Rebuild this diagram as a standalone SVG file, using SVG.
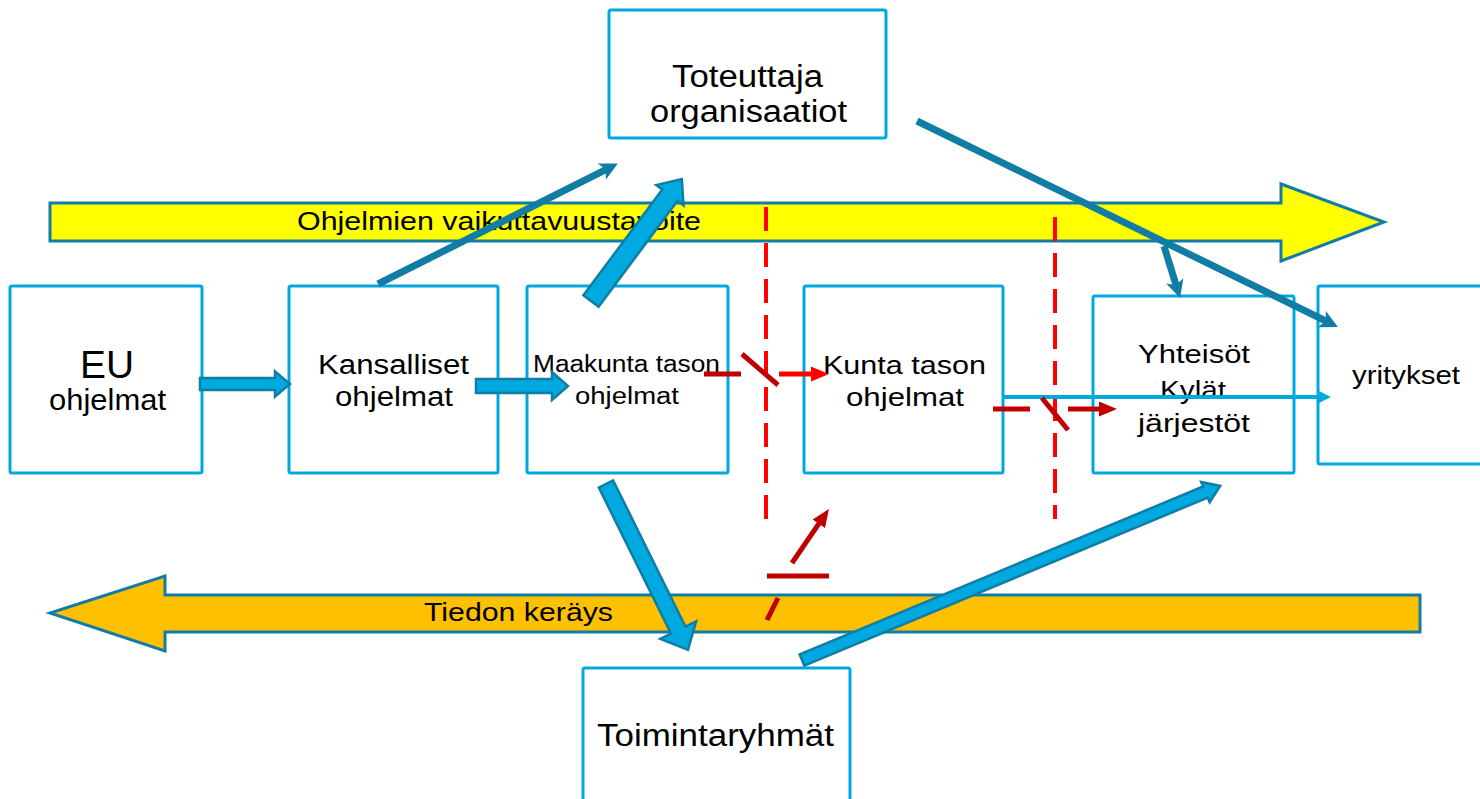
<svg xmlns="http://www.w3.org/2000/svg" width="1480" height="799" viewBox="0 0 1480 799">
<style>
.box{fill:#fff;stroke:#00A8DE;stroke-width:3}
.t{font-family:"Liberation Sans",Arial,sans-serif;fill:#000;text-anchor:middle}
.band{stroke:#117DA5;stroke-width:3;stroke-linejoin:miter}
.blk{fill:#00A9E0;stroke:#117DA5;stroke-width:2.5;stroke-linejoin:miter}
.teal{stroke:#117DA5;stroke-width:7;fill:none}
.dash{stroke:#FF0000;stroke-width:4;stroke-dasharray:24 12;fill:none}
.dr{stroke:#C00000;stroke-width:5;fill:none}
.rd{stroke:#FF0000;stroke-width:5;fill:none}
</style>
<defs>
<marker id="ahT" viewBox="0 0 10 10" markerWidth="18" markerHeight="18" refX="5" refY="5" markerUnits="userSpaceOnUse" orient="auto"><path d="M0,0 L10,5 L0,10 L2.5,5 z" fill="#117DA5"/></marker>
<marker id="ahB" viewBox="0 0 10 10" markerWidth="14" markerHeight="14" refX="5" refY="5" markerUnits="userSpaceOnUse" orient="auto"><path d="M0,0 L10,5 L0,10 L2.5,5 z" fill="#00A9E0"/></marker>
<marker id="ahR" viewBox="0 0 18 15" markerWidth="18" markerHeight="15" refX="8" refY="7.5" markerUnits="userSpaceOnUse" orient="auto"><path d="M0,0 L18,7.5 L0,15 z" fill="#FF0000"/></marker>
<marker id="ahD" viewBox="0 0 18 15" markerWidth="18" markerHeight="15" refX="8" refY="7.5" markerUnits="userSpaceOnUse" orient="auto"><path d="M0,0 L18,7.5 L0,15 z" fill="#C00000"/></marker>
</defs>
<rect width="1480" height="799" fill="#fff"/>

<g id="band-vaikuttavuus">
<polygon class="band" fill="#FFFF00" points="50,203 1281,203 1281,184 1384,222 1281,261 1281,241 50,241"/>
<text class="t" x="499" y="230" font-size="26" textLength="404" lengthAdjust="spacingAndGlyphs">Ohjelmien vaikuttavuustavoite</text>
</g>
<g id="band-tiedon">
<polygon class="band" fill="#FFC000" points="1420,595 165,595 165,576 50,613 165,651 165,632 1420,632"/>
<text class="t" x="518.5" y="621" font-size="26" textLength="189" lengthAdjust="spacingAndGlyphs">Tiedon keräys</text>
</g>

<g id="node-eu">
<rect class="box" x="10" y="286" width="192" height="187" rx="2"/>
<text class="t" x="107" y="378" font-size="38" textLength="54" lengthAdjust="spacingAndGlyphs">EU</text>
<text class="t" x="107.5" y="410" font-size="29" textLength="117" lengthAdjust="spacingAndGlyphs">ohjelmat</text>
</g>
<g id="node-kansalliset">
<rect class="box" x="289" y="286" width="209" height="187" rx="2"/>
<text class="t" x="393.5" y="374" font-size="27" textLength="151" lengthAdjust="spacingAndGlyphs">Kansalliset</text>
<text class="t" x="394" y="406" font-size="27" textLength="118" lengthAdjust="spacingAndGlyphs">ohjelmat</text>
</g>
<g id="node-maakunta">
<rect class="box" x="527" y="286" width="201" height="187" rx="2"/>
<text class="t" x="626.5" y="372" font-size="23" textLength="187" lengthAdjust="spacingAndGlyphs">Maakunta tason</text>
<text class="t" x="627" y="404" font-size="23" textLength="104" lengthAdjust="spacingAndGlyphs">ohjelmat</text>
</g>
<g id="node-kunta">
<rect class="box" x="804" y="286" width="199" height="187" rx="2"/>
<text class="t" x="904.5" y="374" font-size="26" textLength="163" lengthAdjust="spacingAndGlyphs">Kunta tason</text>
<text class="t" x="905" y="406" font-size="26" textLength="118" lengthAdjust="spacingAndGlyphs">ohjelmat</text>
</g>
<g id="node-yhteisot">
<rect class="box" x="1093" y="296" width="201" height="177" rx="2"/>
<text class="t" x="1194" y="363" font-size="25" textLength="112" lengthAdjust="spacingAndGlyphs">Yhteisöt</text>
<text class="t" x="1193" y="399" font-size="25" textLength="66" lengthAdjust="spacingAndGlyphs">Kylät</text>
<text class="t" x="1194" y="432" font-size="25" textLength="112" lengthAdjust="spacingAndGlyphs">järjestöt</text>
</g>
<g id="node-yritykset">
<rect class="box" x="1318" y="286" width="172" height="178" rx="2"/>
<text class="t" x="1406" y="384" font-size="25" textLength="108" lengthAdjust="spacingAndGlyphs">yritykset</text>
</g>
<g id="node-toteuttaja">
<rect class="box" x="609" y="10" width="277" height="128" rx="2"/>
<text class="t" x="747.5" y="87" font-size="31" textLength="151" lengthAdjust="spacingAndGlyphs">Toteuttaja</text>
<text class="t" x="748.5" y="122" font-size="31" textLength="197" lengthAdjust="spacingAndGlyphs">organisaatiot</text>
</g>
<g id="node-toimintaryhmat">
<rect class="box" x="583" y="668" width="267" height="145" rx="2"/>
<text class="t" x="715.5" y="746" font-size="31" textLength="237" lengthAdjust="spacingAndGlyphs">Toimintaryhmät</text>
</g>

<g id="connectors">
<line class="dash" x1="766" y1="207" x2="766" y2="531"/>
<line class="dash" x1="1055" y1="217" x2="1055" y2="519"/>

<polygon class="blk" transform="translate(200,384)" points="0,-6 75,-6 75,-12.5 90,0 75,12.5 75,6 0,6"/>
<polygon class="blk" transform="translate(476,386)" points="0,-7 76,-7 76,-14 92,0 76,14 76,7 0,7"/>
<polygon class="blk" transform="translate(591,301) rotate(-53.3)" points="0,-9.5 132,-9.5 132,-17 152,0 132,17 132,9.5 0,9.5"/>
<polygon class="blk" transform="translate(606,484) rotate(63.7)" points="0,-8 163,-8 163,-20 185,0 163,20 163,8 0,8"/>
<polygon class="blk" transform="translate(802,660) rotate(-22.6)" points="0,-6 437,-6 437,-11 453,0 437,11 437,6 0,6"/>

<line class="teal" x1="378" y1="284" x2="609.8" y2="167.6" marker-end="url(#ahT)"/>
<line class="teal" x1="917" y1="121" x2="1329.9" y2="323" marker-end="url(#ahT)"/>
<line class="teal" x1="1164" y1="246" x2="1177.4" y2="289.4" marker-end="url(#ahT)"/>
<line stroke="#00A9E0" stroke-width="4" x1="1004" y1="397" x2="1324" y2="397" marker-end="url(#ahB)"/>

<line class="dr" x1="704" y1="374" x2="741" y2="374"/>
<line class="dr" x1="742" y1="354" x2="778" y2="385"/>
<line class="rd" x1="779" y1="374" x2="819" y2="374" marker-end="url(#ahR)"/>

<line class="dr" x1="993" y1="409" x2="1030" y2="409"/>
<line class="dr" x1="1042" y1="398" x2="1068" y2="430"/>
<line class="dr" x1="1068" y1="409" x2="1107" y2="409" marker-end="url(#ahD)"/>

<line class="dr" x1="767" y1="576" x2="829" y2="576"/>
<line class="dr" x1="792" y1="563" x2="823.3" y2="517.2" marker-end="url(#ahD)"/>
<line class="dr" x1="778" y1="598" x2="767" y2="620"/>
</g>
</svg>
